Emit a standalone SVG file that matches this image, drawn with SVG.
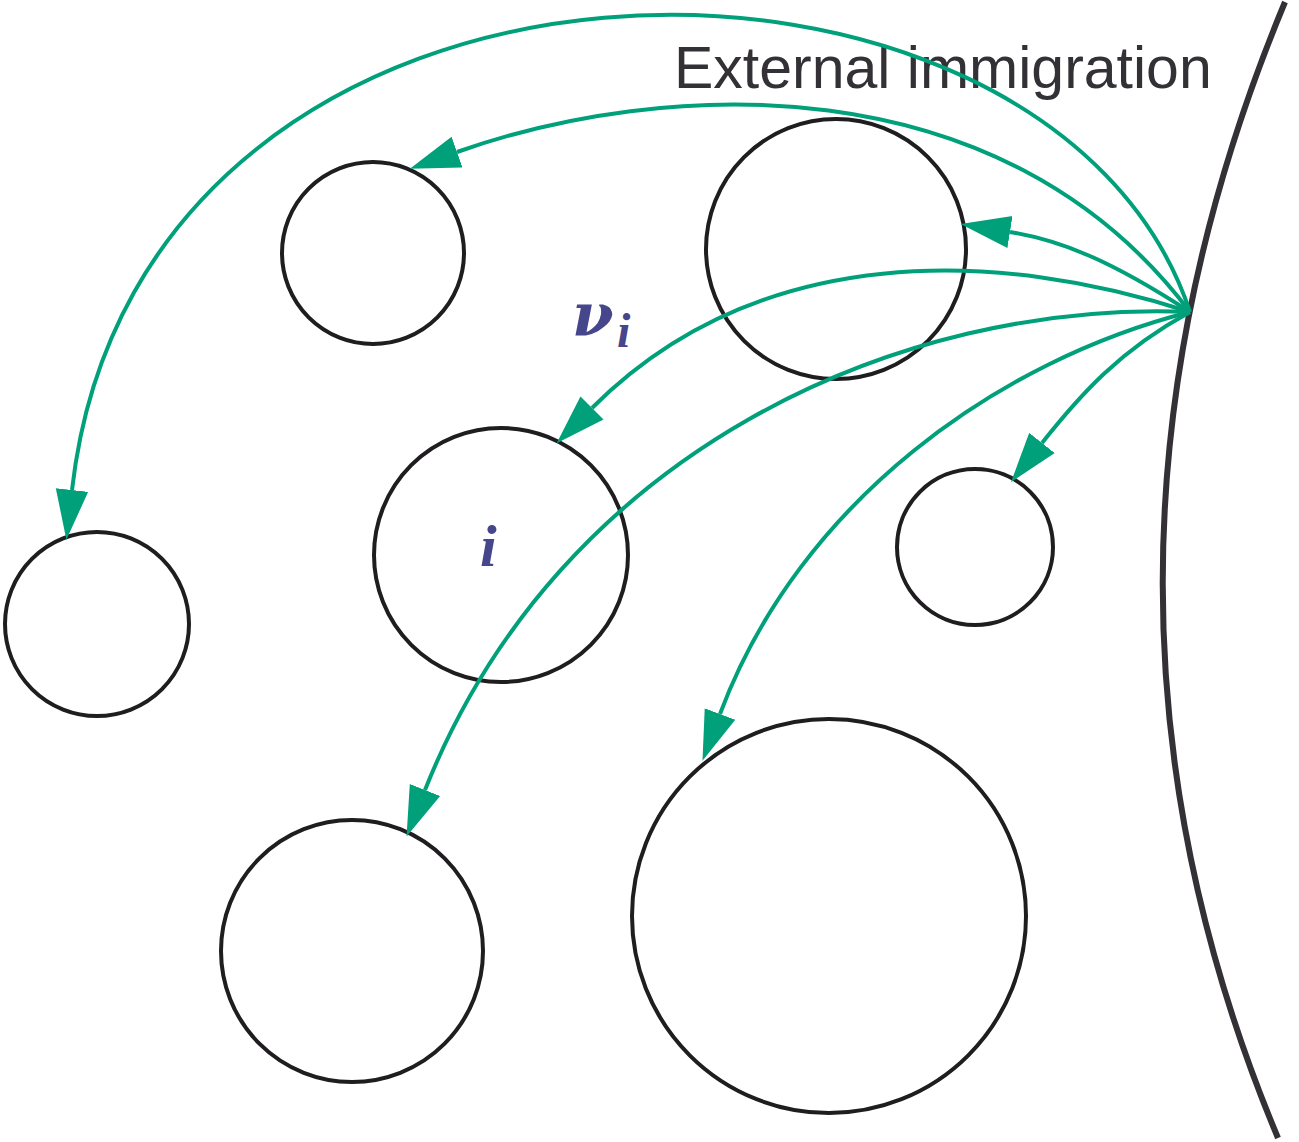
<svg xmlns="http://www.w3.org/2000/svg" width="1299" height="1142" viewBox="0 0 1299 1142">
<style>
.node{fill:none;stroke:#1f1d1f;stroke-width:4}
.arr{fill:none;stroke:#00a07a;stroke-width:4;marker-end:url(#ah)}
.math{font-family:"Liberation Serif","DejaVu Serif",serif;font-style:italic;font-weight:bold;fill:#46468c}
</style>
<defs>
<marker id="ah" markerUnits="userSpaceOnUse" markerWidth="50" markerHeight="34" refX="0" refY="15" orient="auto" viewBox="0 0 46 30">
<path d="M0,0 L46,15 L0,30 Z" fill="#00a07a"/>
</marker>
</defs>
<rect width="1299" height="1142" fill="#fff"/>
<path id="boundary" d="M1285,2 Q1044,580 1278,1138" fill="none" stroke="#333136" stroke-width="6"/>
<g id="n1"><circle class="node" cx="373" cy="253" r="91"/></g>
<g id="n2"><circle class="node" cx="836" cy="249" r="130"/></g>
<g id="n3"><circle class="node" cx="501" cy="555" r="127"/><text class="math" x="480" y="566" font-size="60">i</text></g>
<g id="n4"><circle class="node" cx="975" cy="547" r="78"/></g>
<g id="n5"><circle class="node" cx="97" cy="624" r="92"/></g>
<g id="n6"><circle class="node" cx="352" cy="951" r="131"/></g>
<g id="n7"><circle class="node" cx="829" cy="916" r="197"/></g>
<text x="674" y="88" font-family="Liberation Sans, Arial, sans-serif" font-size="59" fill="#333136">External immigration</text>
<g id="connectors">
<path class="arr" d="M1190,312 C1050,-110 140,-110 72,490"/>
<path class="arr" d="M1190,312 C1000,60 660,80 457,152"/>
<path class="arr" d="M1190,312 C1110,260 1060,240 1010,232"/>
<path class="arr" d="M1190,312 C1000,250 760,240 592,408"/>
<path class="arr" d="M1190,312 C900,300 560,450 425,790"/>
<path class="arr" d="M1190,312 C1000,360 800,500 720,714"/>
<path class="arr" d="M1190,312 C1120,350 1080,395 1042,443"/>
</g>
<text x="572" y="336" font-family="DejaVu Serif, serif" font-style="italic" font-weight="bold" font-size="60" fill="#46468c">ν</text>
<text class="math" x="617" y="347" font-size="48">i</text>
</svg>
